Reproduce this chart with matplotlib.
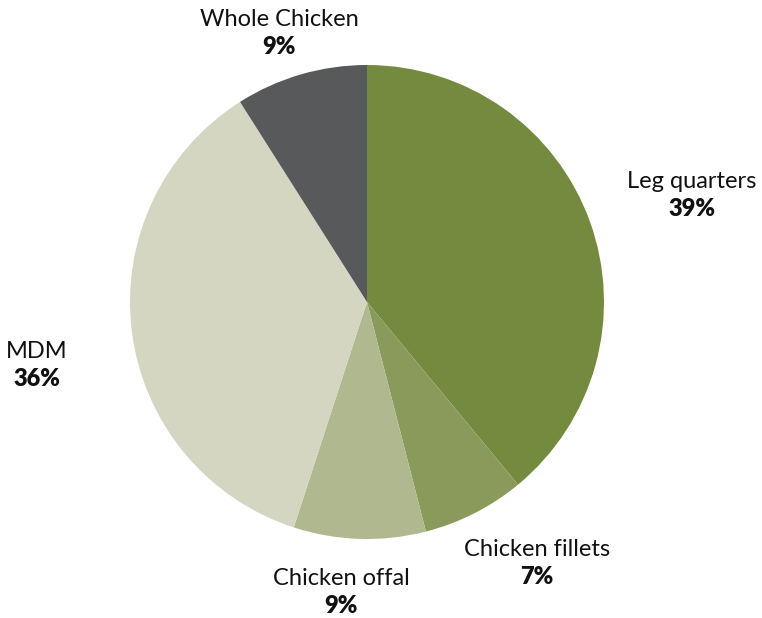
import matplotlib
matplotlib.use("Agg")
import matplotlib.pyplot as plt

categories = ["Leg quarters", "Chicken fillets", "Chicken offal", "MDM", "Whole Chicken"]
shares = [39, 7, 9, 36, 9]
colors = ["#748b3f", "#8a9a5b", "#b0b88f", "#d4d6c1", "#58595b"]
# label centres, in pie-radius units
label_pos = [(1.371, 0.451), (0.717, -1.101), (-0.110, -1.224), (-1.392, -0.266), (-0.370, 1.135)]

plt.rcParams["font.family"] = ["Lato", "DejaVu Sans"]

fig = plt.figure(figsize=(7.62, 6.18), dpi=100)
ax = fig.add_axes([130 / 762, (618 - 302 - 237) / 618, 474 / 762, 474 / 618])

ax.pie(shares, colors=colors, startangle=90, counterclock=False, radius=1,
       wedgeprops=dict(linewidth=0))
ax.set_xlim(-1, 1)
ax.set_ylim(-1, 1)
ax.set_aspect("equal")
ax.axis("off")

for name, val, (x, y) in zip(categories, shares, label_pos):
    ax.annotate(name, (x, y), xytext=(0, 9.9), textcoords="offset points",
                ha="center", va="center", fontsize=17, color="#111111",
                annotation_clip=False)
    ax.annotate(f"{val}%", (x, y), xytext=(0, -9.9), textcoords="offset points",
                ha="center", va="center", fontsize=17, fontweight="heavy",
                color="#111111", annotation_clip=False)

fig.savefig("out.png", dpi=100)
